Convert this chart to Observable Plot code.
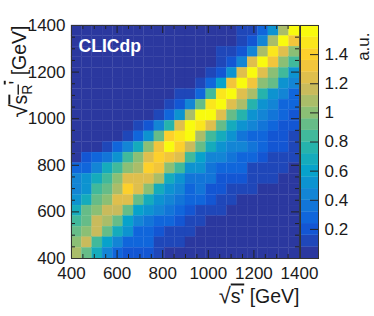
<!DOCTYPE html>
<html><head><meta charset="utf-8">
<script src="https://cdn.jsdelivr.net/npm/d3@7"></script>
<script src="https://cdn.jsdelivr.net/npm/@observablehq/plot@0.6"></script>
<style>
html,body{margin:0;padding:0;background:#fff;overflow:hidden}
#wrap{position:relative;width:374px;height:316px}
#wrap svg{position:absolute;left:0;top:0;background:transparent}
</style></head><body><div id="wrap"></div>
<script>
const d=0.02;
const r1375=[d,d,d,d,d,d,d,d,d,d,d,d,d,d,d,d,.1,.1,.25,.5,1.1,1.6];
const r1330=[d,d,d,d,d,d,d,d,d,d,d,d,d,d,d,d,.1,.2,.4,1.1,1.52,1.3];
const r1285=[d,d,d,d,d,d,d,d,d,d,d,d,d,d,.1,.12,.2,.4,1.1,1.5,1.25,1.02];
const r1240=[d,d,d,d,d,d,d,d,d,d,d,d,d,d,.1,.2,.4,1.25,1.52,1.33,1.02,.8];
const r1195=[d,d,d,d,d,d,d,d,d,d,d,d,d,.1,.2,.5,1.25,1.6,1.25,1.02,.8,.55];
const r1150=[d,d,d,d,d,d,d,d,d,d,d,d,.1,.25,.6,1.35,1.6,1.33,1.02,.88,.55,.45];
const r1105=[d,d,d,d,d,d,d,d,d,d,.1,.1,.25,.85,1.5,1.6,1.25,1.08,.75,.55,.45,.3];
const r1059=[d,d,d,d,d,d,d,d,d,.1,.2,.4,.95,1.5,1.6,1.2,1.05,.75,.55,.4,.3,.25];
const r1014=[d,d,d,d,d,d,d,d,.1,.3,.5,1.1,1.6,1.6,1.25,.95,.75,.55,.4,.35,.3,.2];
const r968=[d,d,d,d,d,d,.12,.2,.4,.75,1.2,1.52,1.5,1.2,.92,.65,.55,.4,.35,.25,.2,.18];
const r923=[d,d,d,d,d,.1,.25,.55,.95,1.4,1.45,1.6,1.1,.85,.65,.5,.35,.3,.25,.2,.18,.12];
const r877=[.02,.03,.05,.15,.25,.4,.65,1.02,1.35,1.52,1.4,1.15,.9,.7,.55,.45,.4,.35,.25,.2,.18,.1];
const r832=[.05,.2,.25,.35,.55,.85,1.02,1.2,1.4,1.3,1.2,.85,.6,.45,.4,.35,.3,.25,.2,.12,.12,.1];
const r786=[.25,.3,.4,.7,.85,1.02,1.1,1.36,1.28,1.02,.85,.55,.5,.35,.3,.28,.25,.15,.15,.12,.12,.03];
const r741=[.4,.5,.65,.85,1.02,1.2,1.25,1.25,1.05,.7,.5,.38,.38,.35,.2,.2,.18,.12,.12,.1,d,d];
const r695=[.45,.55,.85,.92,1.05,1.37,1.2,1.02,.7,.55,.4,.3,.32,.2,.18,.12,.12,.1,d,d,d,d];
const r650=[.5,.7,.88,1.02,1.2,1.2,.88,.7,.5,.4,.35,.28,.25,.2,.12,.1,d,d,d,d,d,d];
const r605=[.65,.88,1.02,1.14,1.14,.92,.6,.5,.4,.35,.25,.2,.15,.12,.12,d,d,d,d,d,d,d];
const r559=[.85,.92,1.14,1.1,.88,.6,.45,.35,.3,.25,.2,.12,.1,d,d,d,d,d,d,d,d,d];
const r514=[.88,1,1.14,.88,.65,.5,.25,.25,.2,.15,.1,.1,d,d,d,d,d,d,d,d,d,d];
const r468=[.98,1.14,.85,.6,.4,.3,.25,.25,.12,.1,.08,d,d,d,d,d,d,d,d,d,d,d];
const r423=[1.1,.92,.65,.4,.3,.2,.2,.18,.1,.04,d,d,d,d,d,d,d,d,d,d,d,d];
const rowsTopDown=[r1375,r1330,r1285,r1240,r1195,r1150,r1105,r1059,r1014,r968,r923,r877,r832,r786,r741,r695,r650,r605,r559,r514,r468,r423];

const axisMin=400, axisMax=1400, nBins=22;
const majorTicks=[400,600,800,1000,1200,1400];
const minorTicks=[450,500,550,650,700,750,850,900,950,1050,1100,1150,1250,1300,1350];
const barTicks=[0.2,0.4,0.6,0.8,1,1.2,1.4];
const barMax=1.6, levels=20;
const palette=["#2b389f","#0f5cdd","#1481d6","#06a4ca","#2eb7a4","#87bf77","#d1bb59","#fec832","#f9fb0e"];

const binW=(axisMax-axisMin)/nBins;
const cells=[];
rowsTopDown.forEach((row,j)=>row.forEach((v,i)=>cells.push({
  x1:axisMin+i*binW,x2:axisMin+(i+1)*binW,
  y1:axisMax-(j+1)*binW,y2:axisMax-j*binW,v})));
const step=barMax/levels;
const thresholds=d3.range(1,levels).map(i=>i*step);
const ramp=d3.piecewise(d3.interpolateRgb,palette);
const colors=d3.range(levels).map(i=>ramp(i/(levels-1)));
const color={type:"threshold",domain:thresholds,range:colors};
const bands=d3.range(levels).map(i=>({y1:i*step,y2:(i+1)*step,v:(i+.5)*step}));

const font='"Liberation Sans",Arial,sans-serif';
const xLabel="√s' [GeV]", yLabel="√s_R' [GeV]";
const ink="#222";
const main=Plot.plot({
  width:374,height:316,marginLeft:71,marginRight:75,marginTop:25,marginBottom:58,
  style:{fontFamily:font,fontSize:"17px",color:"#1a1a1a",background:"transparent",overflow:"visible"},
  x:{domain:[axisMin,axisMax]},y:{domain:[axisMin,axisMax]},color,
  marks:[
    Plot.rect(cells,{x1:"x1",x2:"x2",y1:"y1",y2:"y2",fill:"v",stroke:"v",strokeWidth:.3}),
    Plot.axisX({ticks:majorTicks,tickSize:0,tickPadding:8,label:null,tickFormat:String}),
    Plot.axisY({ticks:majorTicks,tickSize:0,tickPadding:6,label:null,tickFormat:String}),
    Plot.tickX(majorTicks,{x:d=>d,insetTop:225,stroke:ink}),
    Plot.tickX(majorTicks,{x:d=>d,insetBottom:225,stroke:ink}),
    Plot.tickX(minorTicks,{x:d=>d,insetTop:229,stroke:ink}),
    Plot.tickX(minorTicks,{x:d=>d,insetBottom:229,stroke:ink}),
    Plot.tickY(majorTicks,{y:d=>d,insetRight:220,stroke:ink}),
    Plot.tickY(majorTicks,{y:d=>d,insetLeft:220,stroke:ink}),
    Plot.tickY(minorTicks,{y:d=>d,insetRight:224,stroke:ink}),
    Plot.tickY(minorTicks,{y:d=>d,insetLeft:224,stroke:ink}),
    Plot.frame({stroke:"#333"}),
    Plot.text(["CLICdp"],{frameAnchor:"top-left",dx:7,dy:14,text:d=>d,fill:"white",fontWeight:"bold",fontSize:17.6,textAnchor:"start"}),
    Plot.text([xLabel],{frameAnchor:"bottom-right",dx:0,dy:44,text:d=>d,fontSize:19.5,textAnchor:"end",fill:"#1a1a1a"}),
    Plot.text([yLabel],{frameAnchor:"top-left",dx:-58,dy:0,rotate:-90,text:d=>d,fontSize:19.5,textAnchor:"end",fill:"#1a1a1a"})
  ]
});
const bar=Plot.plot({
  width:374,height:316,marginLeft:300,marginRight:56,marginTop:25,marginBottom:58,
  style:{fontFamily:font,fontSize:"17px",color:"#1a1a1a",background:"transparent",overflow:"visible"},
  x:{domain:[0,1],axis:null},y:{domain:[0,barMax]},color,
  marks:[
    Plot.rect(bands,{x1:0,x2:1,y1:"y1",y2:"y2",fill:"v",stroke:"v",strokeWidth:.3}),
    Plot.tickY(barTicks,{y:d=>d,insetLeft:10,stroke:ink}),
    Plot.axisY({anchor:"right",ticks:barTicks,tickSize:0,tickPadding:6,label:null,tickFormat:String}),
    Plot.frame({stroke:"#333"}),
    Plot.text(["a.u."],{frameAnchor:"top-right",dx:38,dy:7,rotate:-90,text:d=>d,fontSize:17,textAnchor:"end",fill:"#1a1a1a"})
  ]
});
function rich(svg,label,build){
  d3.select(svg).selectAll("text").filter(function(){return this.textContent===label;}).each(function(){
    const t=d3.select(this); const host=t.select("tspan").empty()?t:t.select("tspan");
    host.text(null); build(host);
  });
}
rich(main,xLabel,h=>{
  h.append("tspan").style("font-size","22px").text("√");
  h.append("tspan").style("text-decoration","overline").text("s'");
  h.append("tspan").text(" [GeV]");
});
rich(main,yLabel,h=>{
  h.append("tspan").style("font-size","24px").text("√");
  const o=h.append("tspan").style("text-decoration","overline");
  o.append("tspan").text("s");
  o.append("tspan").attr("dy","0.3em").style("font-size","14px").text("R");
  o.append("tspan").attr("dy","-0.45em").text("'");
  h.append("tspan").attr("dy","0.15em").text(" [GeV]");
});
document.getElementById("wrap").append(main,bar);
</script></body></html>
